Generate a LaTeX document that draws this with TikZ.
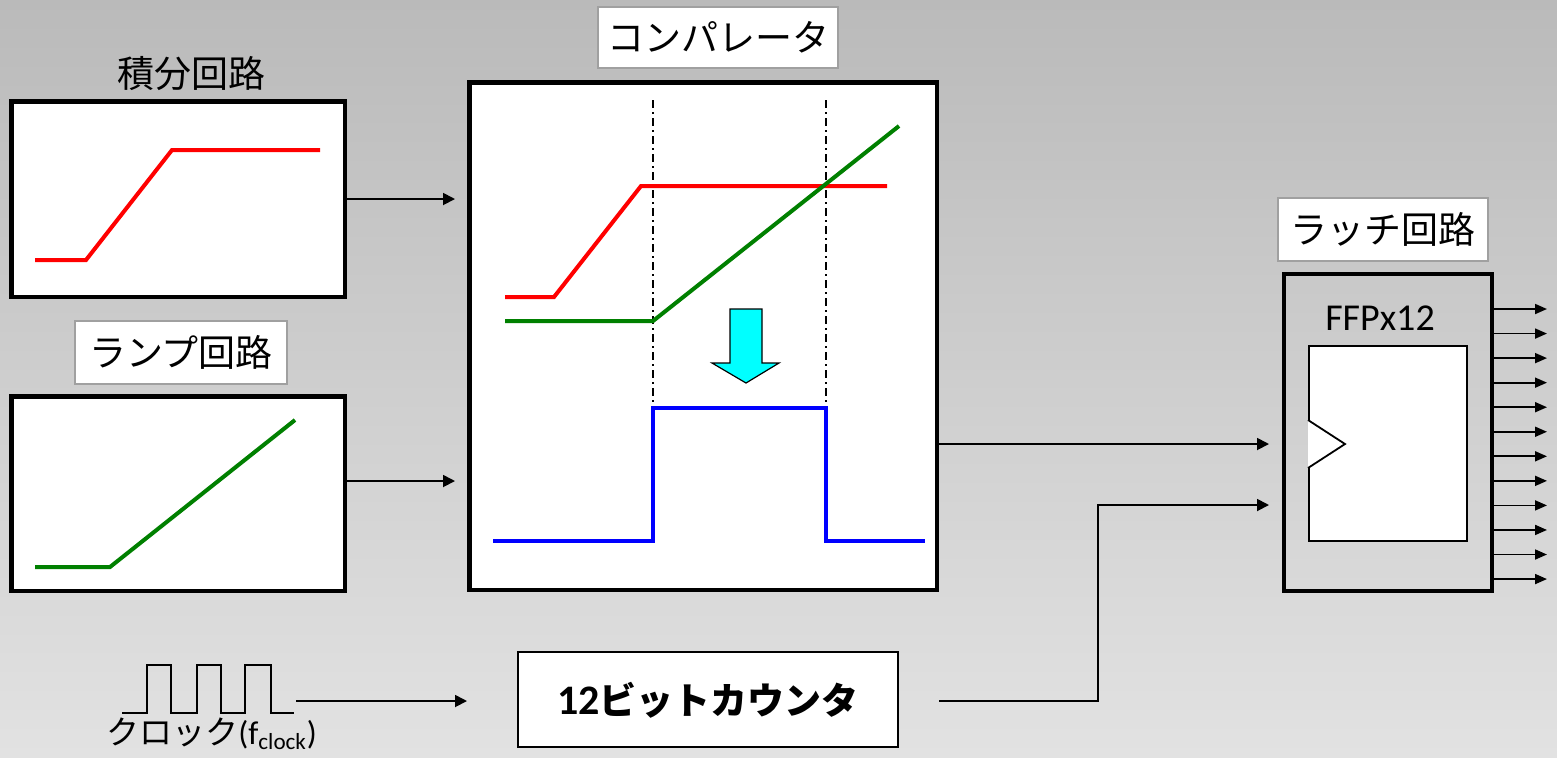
\documentclass[tikz,border=0pt]{standalone}
\usepackage{fontspec}
\setmainfont{Carlito}
\newfontfamily\jp{Noto Sans CJK JP}
\usetikzlibrary{arrows.meta,calc}
\definecolor{bgtop}{RGB}{186,186,186}
\definecolor{bgbot}{RGB}{226,226,226}
\definecolor{sigred}{RGB}{255,0,0}
\definecolor{siggreen}{RGB}{0,128,0}
\definecolor{sigblue}{RGB}{0,0,255}
\definecolor{arrcyan}{RGB}{0,255,255}
\definecolor{lblborder}{RGB}{160,160,160}
\tikzset{
  bigbox/.style={draw=black, line width=2.25pt, fill=white, inner sep=0pt},
  thinbox/.style={draw=black, line width=1pt, fill=white, inner sep=0pt},
  latchbox/.style={draw=black, line width=2pt, inner sep=0pt},
  lblbox/.style={draw=lblborder, line width=0.6pt, fill=white, inner sep=0pt},
  lbltext/.style={font=\jp\fontsize{18.5pt}{22pt}\selectfont, inner sep=0pt},
  conn/.style={draw=black, line width=0.9pt, -{Triangle[length=6pt,width=6pt]}},
  outarr/.style={draw=black, line width=0.9pt, -{Triangle[length=6pt,width=5pt]}},
  sigline/.style={line width=2pt, line join=miter},
  dashdot/.style={draw=black, line width=0.8pt, dash pattern=on 4pt off 2pt on 1pt off 2pt},
}
\begin{document}
\begin{tikzpicture}[x=0.5pt, y=-0.5pt]
\shade[top color=bgtop, bottom color=bgbot] (0,0) rectangle (1557,757);
\useasboundingbox (0,0) rectangle (1557,757);

% integrator
\node[lbltext] (intlbl) at (191,74) {積分回路};
\node[bigbox, minimum width=166.75pt, minimum height=97.75pt] (int) at (178,199) {};
\draw[sigline, sigred] (35,260) -- (86,260) -- (172,150) -- (320,150);

% ramp
\node[lblbox, minimum width=106pt, minimum height=31.5pt] (ramplblbox) at (181,352.5) {};
\node[lbltext] (ramplbl) at (181,352.5) {ランプ回路};
\node[bigbox, minimum width=166.75pt, minimum height=97.25pt] (ramp) at (178,493.5) {};
\draw[sigline, siggreen] (35,567) -- (110,567) -- (295,420);

% comparator
\node[lblbox, minimum width=120pt, minimum height=30.5pt] (complblbox) at (718,37.5) {};
\node[lbltext] (complbl) at (718,37.5) {コンパレータ};
\node[bigbox, minimum width=233.75pt, minimum height=253.75pt] (comp) at (703,336) {};
\draw[dashdot] (653,100) -- (653,408);
\draw[dashdot] (826,100) -- (826,408);
\draw[sigline, sigred] (505,297) -- (554,297) -- (641,186) -- (887,186);
\draw[sigline, siggreen] (505,321) -- (653,321) -- (899,126);
\draw[sigline, sigblue] (493,541) -- (653,541) -- (653,408) -- (826,408) -- (826,541) -- (925,541);
\draw[fill=arrcyan, draw=black, line width=0.6pt] (730,309) -- (762,309) -- (762,363) -- (779,363) -- (746,383) -- (712,363) -- (730,363) -- cycle;

% counter
\node[thinbox, minimum width=190pt, minimum height=47.5pt] (cnt) at (708,699.5) {};
\node[inner sep=0pt, font=\fontsize{18.5pt}{22pt}\selectfont] (cntlbl) at (708,700) {{\fontsize{21pt}{22pt}\selectfont\textbf{12}}{\jp\bfseries ビットカウンタ}};

% latch
\node[lblbox, minimum width=105pt, minimum height=31.5pt] (latchlblbox) at (1383,229.5) {};
\node[lbltext] (latchlbl) at (1383,229.5) {ラッチ回路};
\node[latchbox, minimum width=104pt, minimum height=158.5pt] (latch) at (1388,432.5) {};
\node[inner sep=0pt, font=\fontsize{19pt}{22pt}\selectfont] (ffp) at (1380,318) {FFPx12};
\node[draw=black, line width=1pt, fill=white, inner sep=0pt, minimum width=79pt, minimum height=97.5pt] (ff) at (1388,443.5) {};
\coordinate (tritip) at (1345,444);
\draw[line width=0.9pt, fill=white] (ff.west |- 0,420) -- (tritip) -- (ff.west |- 0,468);

% clock
\draw[line width=0.9pt] (122,713) -- (147,713) -- (147,665) -- (171,665) -- (171,713) -- (197,713) -- (197,665) -- (221,665) -- (221,713) -- (245,713) -- (245,665) -- (271,665) -- (271,713) -- (294,713);
\coordinate (clkend) at (296,701);
\node[inner sep=0pt, anchor=west, font=\fontsize{16.5pt}{20pt}\selectfont] (clklbl) at (106,734) {{\jp クロック}(f\textsubscript{clock})};

% connectors
\draw[conn, shorten >=6pt] (int.east) -- (int.east -| comp.west);
\draw[conn, shorten >=6pt] ([yshift=6.25pt]ramp.east) -- ([yshift=6.25pt]ramp.east -| comp.west);
\draw[conn, shorten >=6.5pt] (comp.east |- tritip) -- (latch.west |- tritip);
\draw[conn] (clkend) -- (comp.west |- clkend);
\coordinate (bend) at (1098,505);
\draw[conn, shorten >=6.5pt] (comp.east |- 0,701) -| (bend) -- (bend -| latch.west);
\foreach \i in {0,...,11} {
  \draw[outarr] ($(latch.east)+(0,{309+\i*24.55-432.5})$) -- ++(53,0);
}
\end{tikzpicture}
\end{document}
